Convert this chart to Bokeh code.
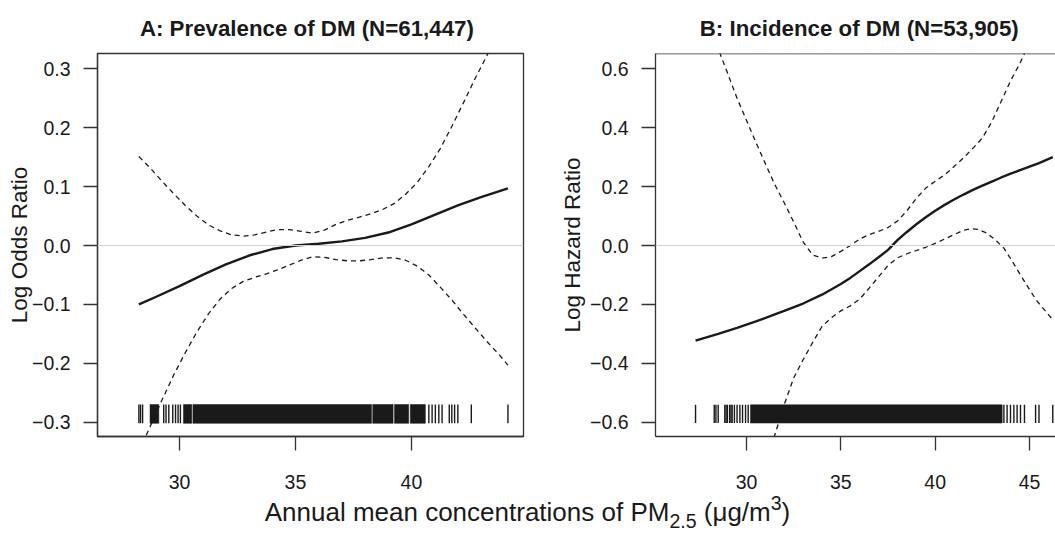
from bokeh.plotting import figure
from bokeh.models import FixedTicker, Span, Div, Range1d
from bokeh.layouts import row, column
from bokeh.embed import file_html
from bokeh.resources import INLINE

# ---------------- Panel A: Prevalence of DM ----------------
title_a = "A: Prevalence of DM (N=61,447)"
ylab_a = "Log Odds Ratio"
a_fit_x = [28.25, 29.0, 30.0, 31.0, 32.0, 33.0, 34.0, 35.0, 36.0, 37.0, 38.0, 39.0, 40.0,
           41.0, 42.0, 43.0, 44.16]
a_fit_y = [-0.100, -0.087, -0.069, -0.050, -0.032, -0.017, -0.006, 0.000, 0.003, 0.007, 0.013,
           0.022, 0.036, 0.052, 0.068, 0.082, 0.097]
a_up_x = [28.25, 28.75, 29.25, 29.75, 30.25, 30.75, 31.25, 31.75, 32.25, 32.75, 33.25, 33.75,
          34.25, 34.75, 35.25, 35.75, 36.25, 36.75, 37.25, 37.75, 38.25, 38.75, 39.25, 39.75,
          40.25, 40.75, 41.25, 41.75, 42.25, 42.75, 43.25, 43.75, 44.16]
a_up_y = [0.151, 0.131, 0.109, 0.088, 0.068, 0.050, 0.035, 0.025, 0.018, 0.016, 0.018, 0.023,
          0.027, 0.027, 0.024, 0.021, 0.026, 0.036, 0.043, 0.048, 0.054, 0.061, 0.071, 0.087,
          0.107, 0.134, 0.165, 0.203, 0.243, 0.284, 0.322, 0.370, 0.420]
a_lo_x = [28.25, 28.75, 29.25, 29.75, 30.25, 30.75, 31.25, 31.75, 32.25, 32.75, 33.25, 33.75,
          34.25, 34.75, 35.25, 35.75, 36.25, 36.75, 37.25, 37.75, 38.25, 38.75, 39.25, 39.75,
          40.25, 40.75, 41.25, 41.75, 42.25, 42.75, 43.25, 43.75, 44.16]
a_lo_y = [-0.350, -0.306, -0.262, -0.220, -0.182, -0.147, -0.116, -0.091, -0.073, -0.061, -0.054,
          -0.048, -0.041, -0.033, -0.025, -0.019, -0.020, -0.024, -0.026, -0.026, -0.024, -0.021,
          -0.021, -0.025, -0.035, -0.050, -0.071, -0.093, -0.117, -0.140, -0.163, -0.184, -0.203]
a_rug_ticks = [28.25, 28.32, 28.41, 29.32, 29.42, 29.54, 29.71, 29.83, 29.94, 30.04,
               40.75, 40.89, 41.03, 41.18, 41.32, 41.63, 41.74, 41.86, 42.00, 42.58, 44.16]
a_rug_start = [28.73, 30.17, 30.58, 38.33, 39.27, 39.95]
a_rug_end = [29.11, 30.53, 38.28, 39.21, 39.88, 40.60]
a_xticks = [30, 35, 40]
a_yticks = [-0.3, -0.2, -0.1, 0.0, 0.1, 0.2, 0.3]

# ---------------- Panel B: Incidence of DM ----------------
title_b = "B: Incidence of DM (N=53,905)"
ylab_b = "Log Hazard Ratio"
b_fit_x = [27.30, 28.5, 29.5, 30.5, 31.5, 32.0, 33.0, 34.0, 35.0, 35.5, 36.0, 36.5, 37.0, 37.5,
           38.0, 38.5, 39.0, 39.5, 40.0, 40.5, 41.0, 41.5, 42.0, 42.5, 43.0, 43.5, 44.0, 44.5,
           45.0, 45.5, 46.23]
b_fit_y = [-0.323, -0.300, -0.280, -0.258, -0.234, -0.222, -0.197, -0.167, -0.131, -0.110,
           -0.087, -0.064, -0.040, -0.015, 0.018, 0.046, 0.072, 0.096, 0.118, 0.138, 0.156,
           0.173, 0.189, 0.203, 0.217, 0.231, 0.244, 0.256, 0.268, 0.280, 0.300]
b_up_x = [27.30, 28.0, 28.62, 29.0, 29.5, 30.0, 30.5, 31.0, 31.5, 32.0, 32.5, 33.0, 33.5, 34.0,
          34.5, 35.0, 35.5, 36.0, 36.5, 37.0, 37.5, 38.0, 38.5, 39.0, 39.5, 40.0, 40.5, 41.0,
          41.5, 42.0, 42.5, 43.0, 43.5, 44.0, 44.5, 45.0, 46.23]
b_up_y = [0.920, 0.780, 0.648, 0.585, 0.500, 0.425, 0.350, 0.278, 0.207, 0.145, 0.080, 0.012,
          -0.032, -0.043, -0.038, -0.020, 0.000, 0.022, 0.037, 0.048, 0.061, 0.083, 0.118,
          0.160, 0.195, 0.218, 0.240, 0.268, 0.298, 0.330, 0.365, 0.420, 0.490, 0.560, 0.620,
          0.690, 0.850]
b_lo_x = [30.80, 31.45, 32.0, 32.5, 33.0, 33.5, 34.0, 34.5, 35.0, 35.5, 36.0, 36.5, 37.0, 37.5,
          38.0, 38.5, 39.0, 39.5, 40.0, 40.5, 41.0, 41.5, 41.87, 42.25, 42.75, 43.25, 43.64,
          44.0, 44.52, 45.0, 45.41, 46.23]
b_lo_y = [-0.800, -0.654, -0.540, -0.450, -0.388, -0.330, -0.275, -0.245, -0.222, -0.205,
          -0.182, -0.145, -0.106, -0.068, -0.042, -0.028, -0.017, -0.006, 0.007, 0.022, 0.037,
          0.052, 0.057, 0.055, 0.042, 0.015, -0.009, -0.045, -0.100, -0.150, -0.190, -0.252]
b_rug_ticks = [27.30, 28.29, 28.38, 28.50, 28.85, 28.92, 28.99, 29.11, 29.18, 29.24, 29.36, 29.50,
               29.65, 29.79, 29.95, 30.09, 43.64, 43.81, 43.99, 44.17, 44.34, 44.52, 44.73,
               45.32, 45.50, 46.23]
b_rug_start = [30.21]
b_rug_end = [43.55]
b_xticks = [30, 35, 40, 45]
b_yticks = [-0.6, -0.4, -0.2, 0.0, 0.2, 0.4, 0.6]

FONT = "Liberation Sans"
INK = "#1a1a1a"
AXC = "#333333"


def fmt(v):
    s = "%.1f" % v
    return s.replace("-", "\u2212")


def make_panel(title, ylab, fwidth, border_left, border_right, xr, yr, xticks, yticks,
               fx, fy, ux, uy, lx, ly, rug_ticks, rug_s, rug_e, rug_lo, rug_hi,
               title_align, title_offset, ylab_standoff, outline=True):
    p = figure(frame_width=fwidth, frame_height=383, x_range=Range1d(*xr), y_range=Range1d(*yr),
               output_backend="svg", toolbar_location=None, tools="",
               min_border_left=border_left, min_border_right=border_right,
               min_border_top=53, min_border_bottom=55)
    p.title.text = title
    p.title.text_font = FONT
    p.title.text_font_size = "22.3px"
    p.title.text_font_style = "bold"
    p.title.text_color = INK
    p.title.align = title_align
    p.title.offset = title_offset
    p.title.standoff = 26
    p.grid.visible = False
    p.background_fill_color = "white"
    p.border_fill_color = "white"
    if outline:
        p.outline_line_color = AXC
        p.outline_line_width = 1.3
    else:
        p.outline_line_color = None
        p.add_layout(Span(location=yr[1], dimension="width", line_color=AXC, line_width=1.3))

    for ax in (p.xaxis[0], p.yaxis[0]):
        ax.axis_line_color = AXC
        ax.axis_line_width = 1.3
        ax.major_tick_line_color = AXC
        ax.major_tick_line_width = 1.3
        ax.major_tick_out = 14
        ax.major_tick_in = 0
        ax.minor_tick_line_color = None
        ax.major_label_text_font = FONT
        ax.major_label_text_font_size = "19.5px"
        ax.major_label_text_color = INK
        ax.axis_label_text_font = FONT
        ax.axis_label_text_font_size = "22.5px"
        ax.axis_label_text_font_style = "normal"
        ax.axis_label_text_color = INK
    p.xaxis.ticker = FixedTicker(ticks=xticks)
    p.yaxis.ticker = FixedTicker(ticks=yticks)
    p.xaxis.major_label_overrides = {t: str(t) for t in xticks}
    p.yaxis.major_label_overrides = {t: fmt(t) for t in yticks}
    p.xaxis.major_label_standoff = 24
    p.yaxis.major_label_standoff = 13
    p.yaxis.axis_label = ylab
    p.yaxis.axis_label_standoff = ylab_standoff

    p.add_layout(Span(location=0, dimension="width", line_color="#cfcfcf", line_width=1))

    p.quad(left=rug_s, right=rug_e, bottom=rug_lo, top=rug_hi, fill_color=INK, line_color=INK,
           line_width=0.5)
    p.segment(x0=rug_ticks, x1=rug_ticks, y0=[rug_lo] * len(rug_ticks), y1=[rug_hi] * len(rug_ticks),
              line_color=INK, line_width=1.4)

    p.line(ux, uy, line_color=INK, line_width=1.3, line_dash="5 4")
    p.line(lx, ly, line_color=INK, line_width=1.3, line_dash="5 4")
    p.line(fx, fy, line_color=INK, line_width=2.4)
    return p


pA = make_panel(title_a, ylab_a, 426, 97, 22, (26.466, 44.83), (-0.3243, 0.326), a_xticks, a_yticks,
                a_fit_x, a_fit_y, a_up_x, a_up_y, a_lo_x, a_lo_y,
                a_rug_ticks, a_rug_start, a_rug_end, -0.302, -0.270, "left", 42.4, -3)
pB = make_panel(title_b, ylab_b, 400, 110, 0, (25.178, 46.375), (-0.6486, 0.652), b_xticks, b_yticks,
                b_fit_x, b_fit_y, b_up_x, b_up_y, b_lo_x, b_lo_y,
                b_rug_ticks, b_rug_start, b_rug_end, -0.603, -0.541, "right", 36.7, 2, outline=False)

xlab = Div(text='Annual mean concentrations of PM<span style="font-size:0.75em;vertical-align:-0.35em;line-height:0">2.5</span> (\u03bcg/m<span style="font-size:0.75em;vertical-align:0.55em;line-height:0">3</span>)',
           width=1055, height=40, margin=(0, 0, 0, 0),
           styles={"font-family": FONT, "font-size": "26px", "color": INK, "text-align": "center",
                   "line-height": "43px", "width": "1055px"})

layout = column(row(pA, pB, spacing=0), xlab, spacing=0)
open("out.html", "w").write(file_html(layout, INLINE))
